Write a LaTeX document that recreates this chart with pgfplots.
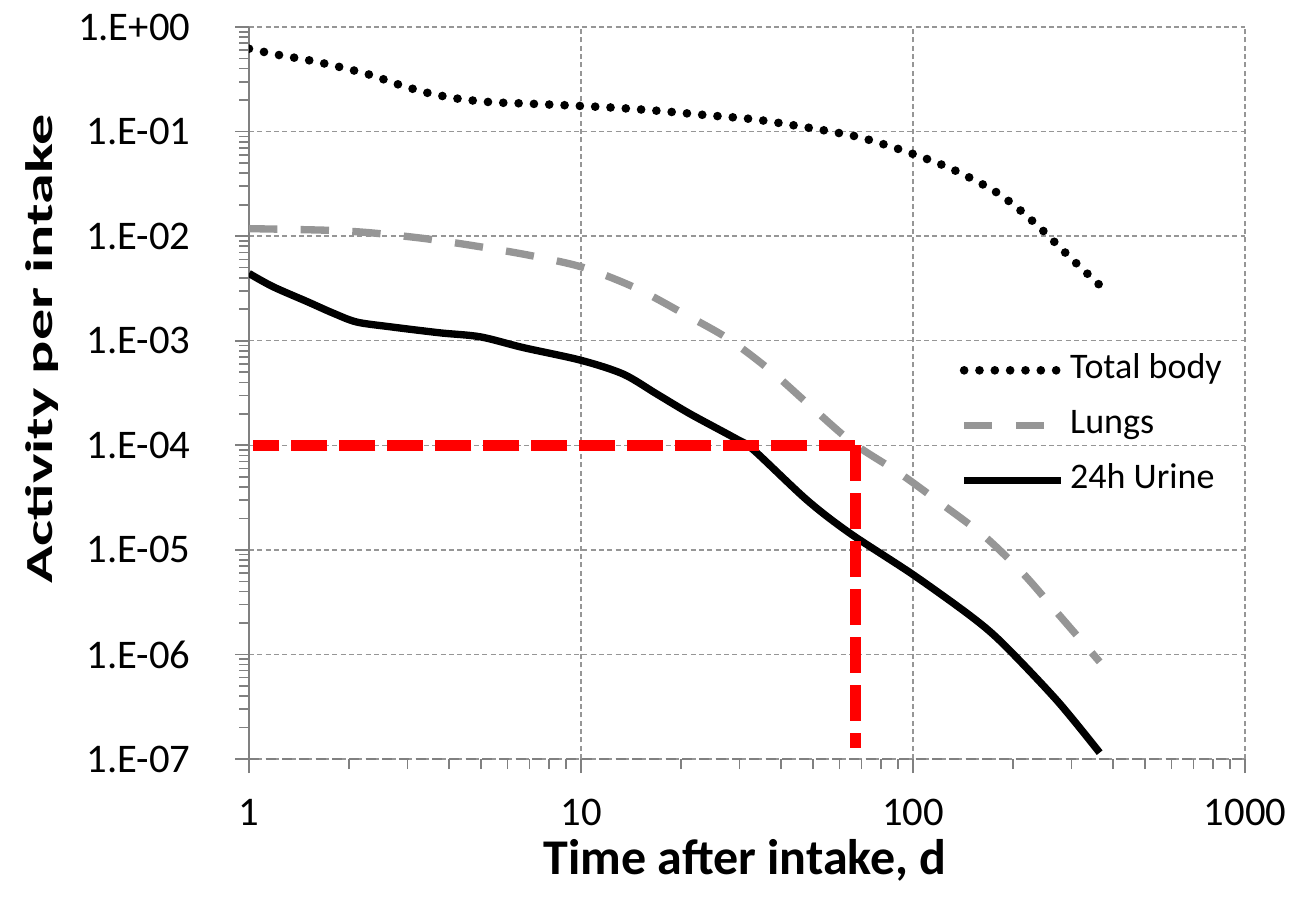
\documentclass[border=0pt]{standalone}
\usepackage{fontspec}
\setmainfont{Carlito}
\usepackage{graphicx}
\usepackage{pgfplots}
\pgfplotsset{compat=1.18}
\definecolor{lunggray}{RGB}{150,150,150}
\definecolor{gridgray}{RGB}{150,150,150}
\definecolor{axisgray}{RGB}{128,128,128}

\begin{document}
\begin{tikzpicture}
\begin{loglogaxis}[
  scale only axis, width=298.8pt, height=219.6pt,
  xmin=1, xmax=1000, ymin=1e-7, ymax=1,
  xtick={1,10,100,1000}, xticklabels={1,10,100,1000},
  ytick={1e-7,1e-6,1e-5,1e-4,1e-3,1e-2,1e-1,1},
  yticklabels={1.E-07,1.E-06,1.E-05,1.E-04,1.E-03,1.E-02,1.E-01,1.E+00},
  axis lines=left, axis line style={-, axisgray, line width=0.5pt},
  x axis line style={densely dashed},
  tick align=outside, tick style={axisgray, line width=0.5pt},
  major tick length=4.2pt, minor tick length=3pt,
  grid=major, major grid style={gridgray, line width=0.4pt, dash pattern=on 1.5pt off 1pt},
  tick label style={font=\fontsize{12.2}{14}\selectfont, black},
  yticklabel style={anchor=east, inner sep=0pt}, yticklabel shift=13.2pt,
  xticklabel style={anchor=north, inner sep=0pt}, xticklabel shift=7.6pt,
  xlabel={Time after intake, d},
  xlabel style={font=\fontsize{15}{18}\selectfont\bfseries, at={(axis description cs:0.498,-0.158)}, anchor=base},
  ylabel={\scalebox{1.62}[1]{Activity per intake}},
  ylabel style={font=\fontsize{11.5}{14}\selectfont\bfseries, at={(axis description cs:-0.208,0.56)}, anchor=center},
  legend style={at={(axis description cs:0.713,0.5615)}, anchor=north west, draw=none, fill=none,
    inner sep=0pt, row sep=3.5pt, font=\fontsize{10.8}{12}\selectfont,
    nodes={text height=7.5pt, text depth=2.5pt, inner sep=1.5pt}},
  legend cell align=left,
  legend image code/.code={\draw[#1] (0pt,0pt) -- (29pt,0pt);},
]
% Total body
\addplot[black, line width=2.6pt, line cap=round, dash pattern=on 0pt off 4.6pt, smooth] coordinates {
(1,0.62)(1.23,0.54)(1.52,0.48)(1.88,0.414)(2.33,0.347)(2.85,0.279)(3.5,0.232)(4.32,0.205)
(5.37,0.191)(6.64,0.186)(9.2,0.178)(12.7,0.169)(17.5,0.157)(24.2,0.143)(33.2,0.131)(45.9,0.112)
(56.6,0.1)(70.3,0.087)(95.9,0.064)(129,0.0448)(173,0.0279)(206,0.0187)(242,0.0119)(262,0.0093)
(305,0.0058)(365,0.0034)};
\addlegendentry{Total body}
% Lungs
\addplot[lunggray, line width=2.2pt, dash pattern=on 8.5pt off 7pt, smooth] coordinates {
(1,0.0118)(1.7,0.0114)(2.3,0.0108)(3.37,0.0095)(4.87,0.008)(7.1,0.0065)(10.2,0.005)(14.6,0.0032)
(20.1,0.00186)(27.7,0.00105)(37.3,5.15e-4)(49.1,2.37e-4)(66,1.05e-4)(91.2,5.4e-5)(123,2.7e-5)
(165,1.33e-5)(215,5.9e-6)(275,2.4e-6)(365,8.5e-7)};
\addlegendentry{Lungs}
% 24h urine
\addplot[black, line width=2.2pt, smooth] coordinates {
(1,4.4e-3)(1.18,3.29e-3)(1.5,2.36e-3)(1.79,1.84e-3)(2.11,1.51e-3)(2.66,1.36e-3)(3.76,1.19e-3)
(4.97,1.09e-3)(6.7,8.6e-4)(10,6.5e-4)(13.4,4.8e-4)(16.9,3.1e-4)(21.3,2.0e-4)(29.4,1.15e-4)
(33,9.1e-5)(47.9,3.0e-5)(64.4,1.45e-5)(100,5.8e-6)(150,2.3e-6)(187,1.26e-6)(272,3.6e-7)(365,1.15e-7)};
\addlegendentry{24h Urine}
% red guide lines, drawn from the corner outwards
\addplot[red, line width=3.3pt, dash pattern=on 10.8pt off 3.6pt, forget plot] coordinates {(67,1e-4)(1.03,1e-4)};
\addplot[red, line width=3.3pt, dash pattern=on 10.8pt off 3.6pt, forget plot] coordinates {(67,1e-4)(67,1.28e-7)};
\end{loglogaxis}
\pgfresetboundingbox
\path[use as bounding box] ([xshift=-74.7pt,yshift=-43.5pt]current axis.south west) rectangle ([xshift=14.1pt,yshift=8.1pt]current axis.north east);
\end{tikzpicture}
\end{document}
